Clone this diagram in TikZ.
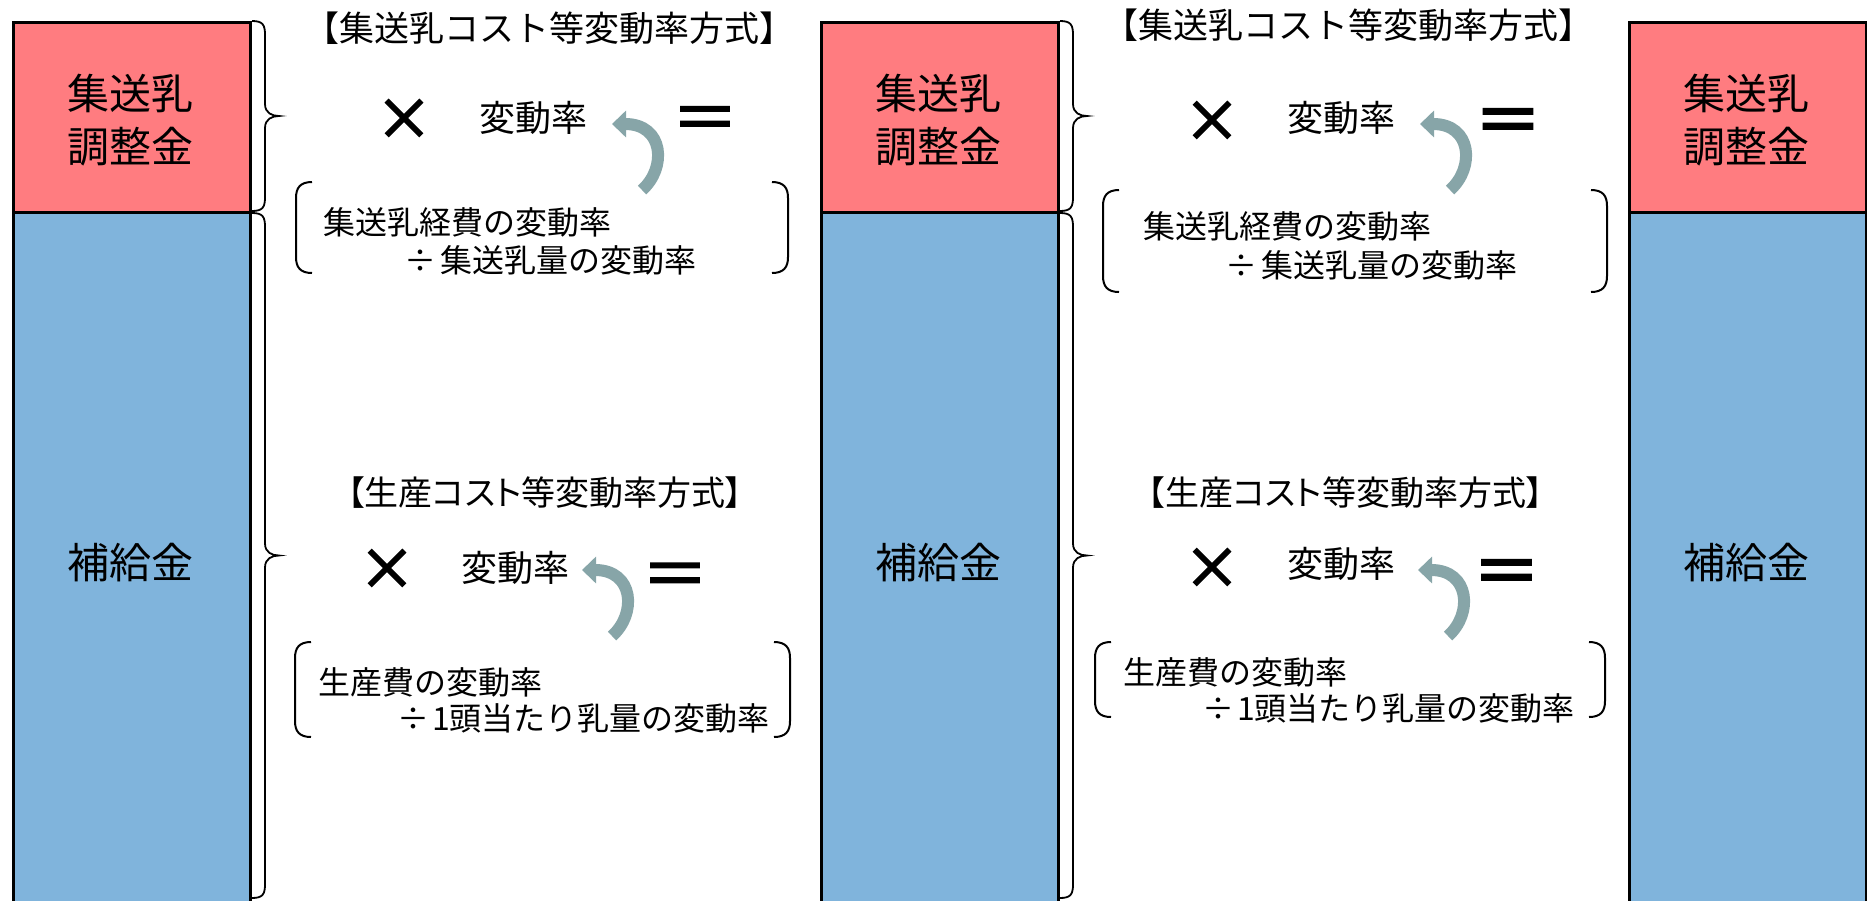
\documentclass[tikz,border=0pt]{standalone}
\usepackage{fontspec}
\setmainfont{Noto Sans CJK JP}
\newfontfamily\jp{Noto Sans CJK JP}
\newfontfamily\jpp{Noto Sans CJK JP}[RawFeature=+palt]
\newfontfamily\jpb{Noto Sans CJK JP}[FakeBold=2.5]
\newfontfamily\jpbb{Noto Sans CJK JP}[FakeBold=4]
\newfontfamily\jpx{Noto Sans CJK JP}[FakeBold=3.5]
\usetikzlibrary{arrows.meta}
\definecolor{barred}{RGB}{255,124,128}
\definecolor{barblue}{RGB}{128,180,220}
\definecolor{arrowc}{RGB}{135,165,168}
\newcommand{\mybrace}[3]{%
\draw[brc] (#1,#2) .. controls ({#1+11},#2) and ({#1+13},{#2+4}) .. ({#1+13},{#2+14})
 -- ({#1+13},{(#2+#3)/2-12}) .. controls ({#1+13},{(#2+#3)/2-3}) and ({#1+20},{(#2+#3)/2}) .. ({#1+27},{(#2+#3)/2})
 .. controls ({#1+20},{(#2+#3)/2}) and ({#1+13},{(#2+#3)/2+3}) .. ({#1+13},{(#2+#3)/2+12})
 -- ({#1+13},{#3-14}) .. controls ({#1+13},{#3-4}) and ({#1+11},#3) .. (#1,#3);}
\newcommand{\myparl}[3]{%
\draw[prn] ({#1+16},#2) .. controls ({#1+4},#2) and (#1,{#2+6}) .. (#1,{#2+16})
 -- (#1,{#3-16}) .. controls (#1,{#3-6}) and ({#1+4},#3) .. ({#1+16},#3);}
\newcommand{\myparr}[3]{%
\draw[prn] ({#1-16},#2) .. controls ({#1-4},#2) and (#1,{#2+6}) .. (#1,{#2+16})
 -- (#1,{#3-16}) .. controls (#1,{#3-6}) and ({#1-4},#3) .. ({#1-16},#3);}
\newcommand{\myarr}[2]{%
\draw[rarrow] (#1,#2) .. controls ({#1+25},{#2-22}) and ({#1+22},{#2-66}) .. ({#1-30},{#2-66});}
\begin{document}
\begin{tikzpicture}[x=1pt,y=-1pt,
  redbar/.style={draw=black, line width=3pt, fill=barred, inner sep=0, minimum width=237pt, minimum height=190pt, anchor=north west},
  bluebar/.style={draw=black, line width=3pt, fill=barblue, inner sep=0, minimum width=237pt, minimum height=720pt, anchor=north west},
  bartxt/.style={font=\jp\fontsize{42}{50}\selectfont, inner sep=0, anchor=base},
  ttl/.style={font=\jp\fontsize{35}{40}\selectfont, inner sep=0, anchor=base},
  ttlp/.style={font=\jpp\fontsize{34}{40}\selectfont, inner sep=0, anchor=base},
  rate/.style={font=\jp\fontsize{36}{42}\selectfont, inner sep=0, anchor=base},
  fl/.style={font=\jp\fontsize{32}{38}\selectfont, inner sep=0, anchor=base west},
  fr/.style={font=\jp\fontsize{32}{38}\selectfont, inner sep=0, anchor=base east},
  opx/.style={font=\jpx\fontsize{56}{60}\selectfont, inner sep=0, anchor=base},
  opeq/.style={font=\jpb\fontsize{66}{70}\selectfont, inner sep=0, anchor=base},
  opeqb/.style={font=\jpbb\fontsize{66}{70}\selectfont, inner sep=0, anchor=base},
  brc/.style={draw=black, line width=1.8pt},
  prn/.style={draw=black, line width=2pt},
  rarrow/.style={draw=arrowc, line width=12pt, -{Triangle[length=14pt,width=26pt]}},
]
\useasboundingbox (0,0) rectangle (1867,900);
\fill[white] (0,0) rectangle (1867,900);
\clip (0,0) rectangle (1867,900);
% bars
\node[redbar] (b1r) at (12,21) {};
\node[bluebar] (b1b) at (12,211) {};
\node[redbar] (b2r) at (820,21) {};
\node[bluebar] (b2b) at (820,211) {};
\node[redbar] (b3r) at (1628,21) {};
\node[bluebar] (b3b) at (1628,211) {};
\foreach \cx/\nm in {130.5/a,938/b,1746.5/c}{
  \node[bartxt] (t1\nm) at (\cx,109) {集送乳};
  \node[bartxt] (t2\nm) at (\cx,162) {調整金};
  \node[bartxt] (t3\nm) at (\cx,578) {補給金};
}
% braces
\mybrace{252}{21}{211}
\mybrace{252}{213}{898}
\mybrace{1060}{21}{211}
\mybrace{1060}{213}{898}
% column 1 top
\node[ttl] (ttl1) at (549.5,41) {【集送乳コスト等変動率方式】};
\node[opx] (x1) at (404,139) {×};
\node[rate] (r1) at (533.5,131) {変動率};
\node[opeq] (e1) at (705,141.5) {＝};
\myarr{642}{190}
\myparl{296}{182}{273}
\myparr{788}{182}{273}
\node[fl] (f1a) at (323,234) {集送乳経費の変動率};
\node[fr] (f1b) at (697,272) {÷\kern4pt 集送乳量の変動率};
% column 1 bottom
\node[ttlp] (ttl2) at (545,505) {【生産コスト等変動率方式】};
\node[opx] (x2) at (387,589) {×};
\node[rate] (r2) at (515,581) {変動率};
\node[opeq] (e2) at (675,598) {＝};
\myarr{612}{636}
\myparl{295}{642}{737}
\myparr{790}{642}{737}
\node[fl] (f2a) at (318,694) {生産費の変動率};
\node[fr] (f2b) at (770,730) {÷\kern3pt 1頭当たり乳量の変動率};
% column 2 top
\node[ttl] (ttl3) at (1348,38) {【集送乳コスト等変動率方式】};
\node[opx] (x3) at (1212,141) {×};
\node[rate] (r3) at (1341.5,131) {変動率};
\node[opeqb] (e3) at (1508,144) {＝};
\myarr{1450}{190}
\myparl{1103}{190}{292}
\myparr{1607}{190}{292}
\node[fl] (f3a) at (1143,238) {集送乳経費の変動率};
\node[fr] (f3b) at (1518,277) {÷\kern4pt 集送乳量の変動率};
% column 2 bottom
\node[ttlp] (ttl4) at (1345.5,505) {【生産コスト等変動率方式】};
\node[opx] (x4) at (1212,588) {×};
\node[rate] (r4) at (1341.5,577) {変動率};
\node[opeqb] (e4) at (1506.5,595) {＝};
\myarr{1448}{636}
\myparl{1095}{642}{717}
\myparr{1605}{642}{717}
\node[fl] (f4a) at (1123,684) {生産費の変動率};
\node[fr] (f4b) at (1575,720) {÷\kern3pt 1頭当たり乳量の変動率};
\end{tikzpicture}
\end{document}
